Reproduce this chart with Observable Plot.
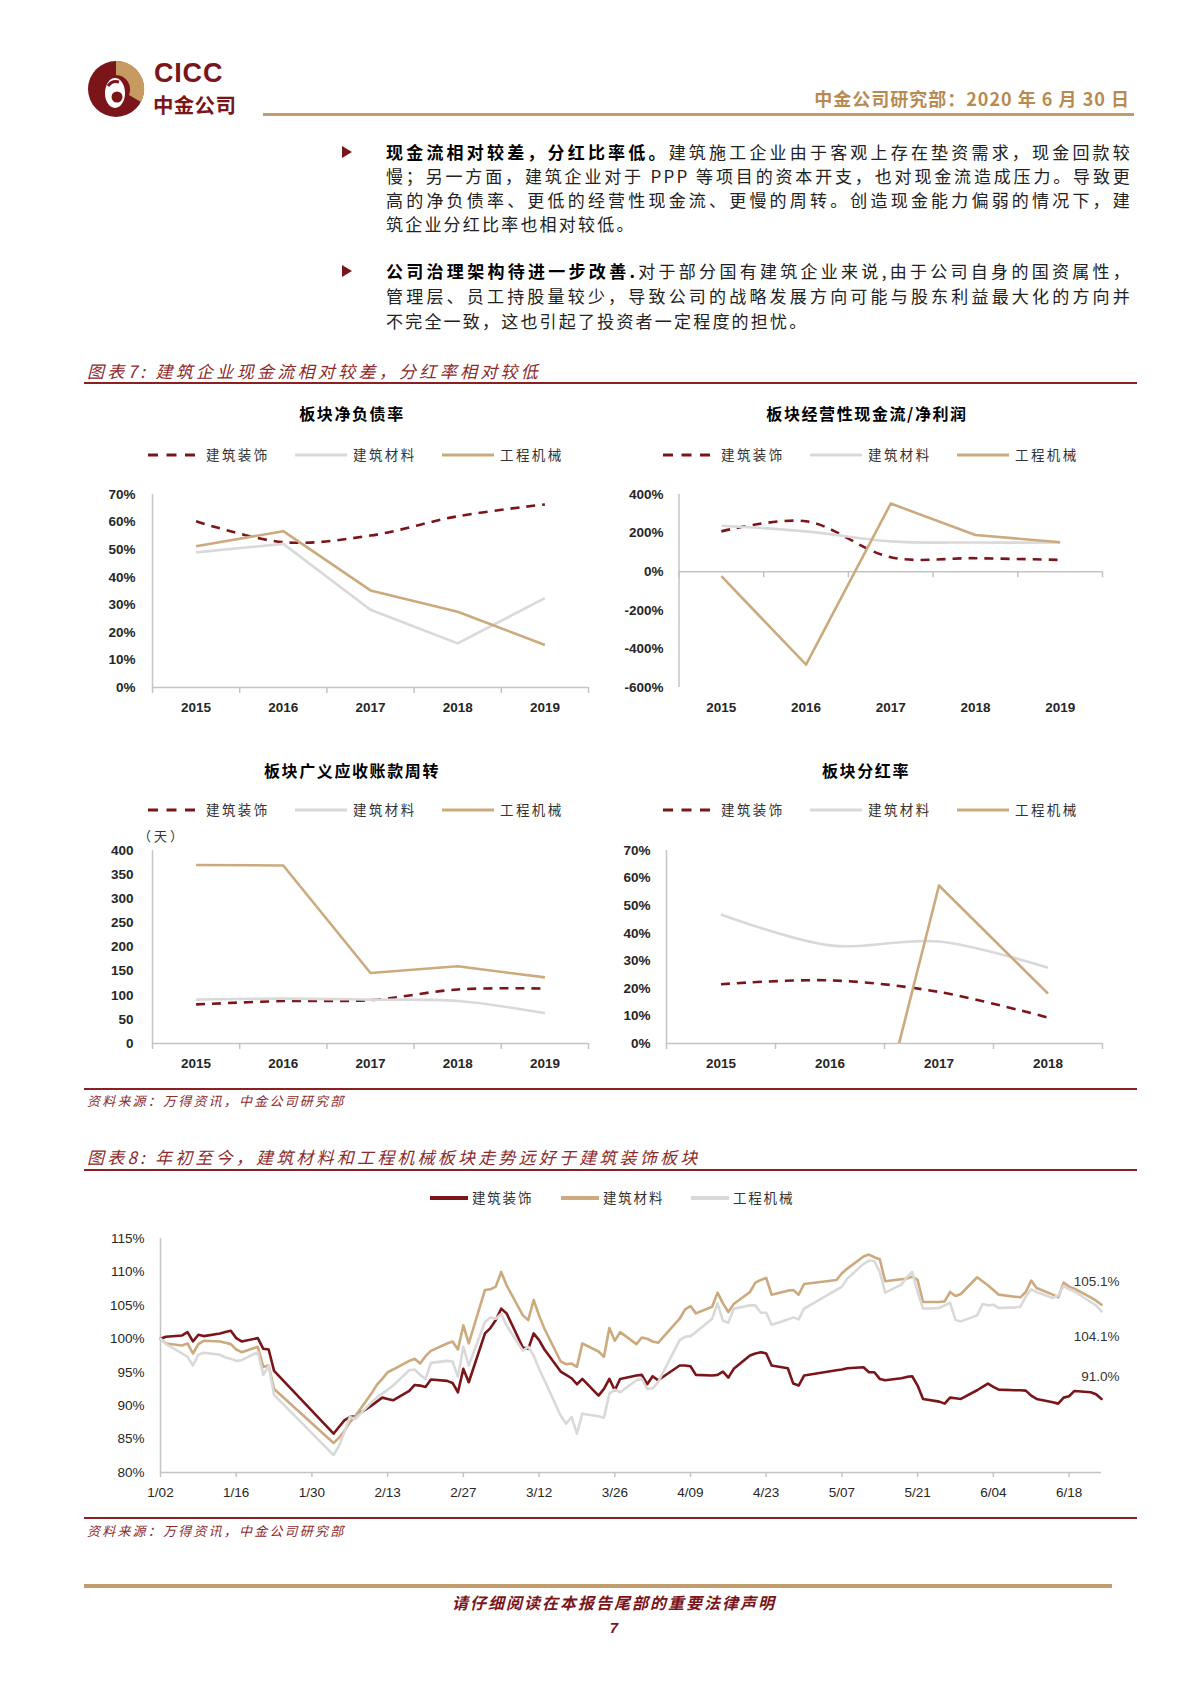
<!DOCTYPE html>
<html lang="zh-CN">
<head>
<meta charset="utf-8">
<script src="https://cdn.jsdelivr.net/npm/d3@7"></script>
<script src="https://cdn.jsdelivr.net/npm/@observablehq/plot@0.6"></script>
<style>
html,body{margin:0;padding:0;background:#fff;}
#page{position:relative;width:1200px;height:1698px;overflow:hidden;background:#fff;font-family:"Noto Sans CJK SC","Noto Sans",sans-serif;color:#1a1a1a;}
.t{position:absolute;white-space:nowrap;line-height:1;}
.bl{position:absolute;left:386px;width:746px;height:24px;line-height:24px;font-size:17px;letter-spacing:2.2px;color:#222;text-align:justify;text-align-last:justify;text-justify:inter-character;}
.bl.last{text-align-last:left;}
.bl b{font-weight:700;color:#000;}
.rule{position:absolute;}
</style>
</head>
<body>
<div id="page"></div>
<script>
// ---------------- DATA ----------------
const years5 = ["2015", "2016", "2017", "2018", "2019"];
const years4 = ["2015", "2016", "2017", "2018"];
const sectors = ["建筑装饰", "建筑材料", "工程机械"];

// 板块净负债率
const netDebtDecor = [0.603, 0.527, 0.551, 0.621, 0.664];
const netDebtMat   = [0.490, 0.521, 0.282, 0.160, 0.324];
const netDebtMach  = [0.512, 0.567, 0.352, 0.275, 0.154];
// 板块经营性现金流/净利润
const ocfDecor = [2.09, 2.61, 0.75, 0.70, 0.61];
const ocfMat   = [2.38, 2.09, 1.57, 1.51, 1.51];
const ocfMach  = [-0.23, -4.82, 3.53, 1.90, 1.53];
// 板块广义应收账款周转（天）
const arDecor = [81, 88, 90, 112, 114];
const arMat   = [91, 93, 91, 88, 63];
const arMach  = [370, 369, 146, 160, 137];
// 板块分红率
const divDecor = [0.215, 0.229, 0.187, 0.094];
const divMat   = [0.468, 0.356, 0.370, 0.275];
const divMach  = [null, -0.99, 0.573, 0.181];

const pctTicks70 = [0, 0.1, 0.2, 0.3, 0.4, 0.5, 0.6, 0.7];
const ocfTicks = [-6, -4, -2, 0, 2, 4];
const arTicks = [0, 50, 100, 150, 200, 250, 300, 350, 400];
const idxTicks = [80, 85, 90, 95, 100, 105, 110, 115];

// 图表8: trading days 2020 and indexed performance (%)
const tradeDates = [
"01-02","01-03","01-06","01-07","01-08","01-09","01-10","01-13","01-14","01-15","01-16","01-17","01-20","01-21","01-22","01-23",
"02-03","02-04","02-05","02-06","02-07","02-10","02-11","02-12","02-13","02-14","02-17","02-18","02-19","02-20","02-21","02-24","02-25","02-26","02-27","02-28",
"03-02","03-03","03-04","03-05","03-06","03-09","03-10","03-11","03-12","03-13","03-16","03-17","03-18","03-19","03-20","03-23","03-24","03-25","03-26","03-27","03-30","03-31",
"04-01","04-02","04-03","04-07","04-08","04-09","04-10","04-13","04-14","04-15","04-16","04-17","04-20","04-21","04-22","04-23","04-24","04-27","04-28","04-29","04-30",
"05-06","05-07","05-08","05-11","05-12","05-13","05-14","05-15","05-18","05-19","05-20","05-21","05-22","05-25","05-26","05-27","05-28","05-29",
"06-01","06-02","06-03","06-04","06-05","06-08","06-09","06-10","06-11","06-12","06-15","06-16","06-17","06-18","06-19","06-22","06-23","06-24"];

const decor8 = [
100.0,100.3,100.5,101.0,99.6,100.6,100.4,100.8,101.0,101.2,100.1,99.6,100.1,98.5,98.4,95.2,
85.8,86.8,87.8,88.3,88.4,90.0,90.6,91.2,91.0,90.8,92.2,93.1,93.0,92.8,93.9,93.7,93.4,92.0,95.5,93.5,
100.8,101.6,102.8,104.5,103.8,98.7,98.5,100.8,99.8,98.4,95.1,94.6,94.1,93.2,94.0,91.5,92.5,94.0,92.3,94.0,94.5,94.6,
93.2,94.4,93.8,96.0,96.0,95.9,94.6,94.5,94.6,95.1,94.2,95.5,97.5,97.8,98.0,97.8,96.0,95.6,93.3,93.0,94.5,
95.3,95.4,95.6,95.75,95.0,95.0,94.0,93.8,94.1,94.3,94.4,93.0,91.0,90.6,90.3,91.2,91.1,91.0,
92.3,92.8,93.3,92.8,92.4,92.3,92.3,92.25,91.5,91.0,90.5,90.3,91.2,91.4,92.2,92.0,91.7,91.0];

const mat8 = [
100.0,99.3,99.0,99.3,97.8,99.2,99.7,99.6,99.4,99.2,98.4,98.0,98.8,95.8,96.0,92.5,
84.4,85.2,86.2,87.5,88.4,91.8,93.1,94.0,95.0,95.4,96.7,97.0,96.3,97.4,98.2,99.3,99.6,98.4,102.0,99.3,
107.3,107.4,107.8,110.0,108.0,103.5,102.8,105.8,103.5,101.5,96.6,96.2,96.3,95.8,99.3,98.1,97.3,101.6,99.7,101.0,99.2,100.2,
100.0,99.6,99.4,103.0,104.4,104.9,103.8,104.8,106.9,105.3,104.0,105.2,107.0,108.4,108.8,109.1,106.6,107.2,107.3,106.6,108.2,
108.8,109.8,110.5,112.3,112.6,112.2,111.9,108.6,108.9,109.0,109.3,108.8,105.5,105.5,105.6,107.0,106.4,106.7,
109.2,108.6,108.0,107.3,106.6,106.3,106.2,107.0,108.7,107.6,106.6,106.2,108.4,107.8,107.5,106.2,105.7,105.1];

const mach8 = [
100.0,99.2,97.8,97.3,96.0,97.6,97.9,97.6,97.2,97.0,96.7,96.8,98.0,94.6,96.0,91.6,
82.6,84.0,86.0,88.3,88.0,90.5,91.2,91.8,92.4,93.0,95.3,95.4,94.6,94.0,96.4,96.7,96.6,94.3,98.8,96.0,
102.5,103.2,103.0,103.7,102.0,98.2,98.8,97.5,95.5,93.8,88.5,87.3,88.3,85.8,88.8,88.4,88.2,91.8,92.4,92.0,93.8,94.0,
92.5,92.6,93.5,99.8,100.3,100.4,101.0,103.0,105.3,102.7,102.4,104.5,105.0,105.0,103.9,103.9,102.1,102.9,103.2,102.9,104.5,
107.3,107.8,109.0,111.2,111.7,111.6,110.0,106.9,108.1,109.2,110.0,107.0,104.5,104.6,105.0,105.4,102.8,102.6,
103.5,105.2,105.0,105.1,104.6,104.7,104.8,106.3,107.4,107.0,106.1,106.5,107.9,107.4,107.1,105.5,105.0,104.1];

// ---------------- STYLE ----------------
const DARK = "#7a151a";
const GOLD = "#ccaa7e";
const GRAY = "#d9d9d9";
const AXIS = "#c4c4c4";
const CAP = "#8c2a2c";

const page = document.getElementById("page");
function add(html) { page.insertAdjacentHTML("beforeend", html); }
function txt(s, x, y, css, anchor) {
  const tx = anchor === "middle" ? "-50%" : anchor === "end" ? "-100%" : "0";
  add(`<div class="t" style="left:${x}px;top:${y}px;transform:translate(${tx},-50%);${css}">${s}</div>`);
}
function hrule(x1, x2, y, h, color) {
  add(`<div class="rule" style="left:${x1}px;top:${y - h / 2}px;width:${x2 - x1}px;height:${h}px;background:${color}"></div>`);
}
function mount(node, x, y) {
  node.style.position = "absolute"; node.style.left = x + "px"; node.style.top = y + "px";
  page.appendChild(node);
}

// ---------------- HEADER ----------------
add(`<svg style="position:absolute;left:86px;top:58px" width="62" height="62" viewBox="0 0 62 62">
  <circle cx="30" cy="31" r="28" fill="${DARK}"/>
  <path d="M30 3 A28 28 0 0 1 55 44 L43 37 A14.5 14.5 0 0 0 30 17 Z" fill="#c79a62"/>
  <ellipse cx="29" cy="35" rx="10" ry="15" fill="#fff"/>
  <circle cx="31" cy="39" r="5.5" fill="${DARK}"/>
  <path d="M22 28 Q26 22 33 24" stroke="${DARK}" stroke-width="3" fill="none"/>
</svg>`);
txt("CICC", 154, 73, `font-family:'Liberation Sans',Arial,sans-serif;font-weight:700;font-size:27px;color:${DARK};letter-spacing:0.8px`);
txt("中金公司", 153, 104, `font-weight:700;font-size:20.5px;color:${DARK};letter-spacing:0.3px`);
txt("中金公司研究部：2020 年 6 月 30 日", 1130, 98, `font-weight:700;font-size:18px;color:#b98a50;letter-spacing:1px`, "end");
hrule(263, 1134, 114, 3, "#c19b6c");

// ---------------- BODY TEXT ----------------
function tri(x, y) {
  add(`<svg style="position:absolute;left:${x - 6}px;top:${y - 7}px" width="12" height="14"><polygon points="1,1 11,7 1,13" fill="${DARK}"/></svg>`);
}
function line(html, yc, last) {
  add(`<div class="bl${last ? " last" : ""}" style="top:${yc - 12}px">${html}</div>`);
}
tri(347, 152);
line("<b>现金流相对较差，分红比率低。</b>建筑施工企业由于客观上存在垫资需求，现金回款较", 152);
line("慢；另一方面，建筑企业对于 PPP 等项目的资本开支，也对现金流造成压力。导致更", 176);
line("高的净负债率、更低的经营性现金流、更慢的周转。创造现金能力偏弱的情况下，建", 200);
line("筑企业分红比率也相对较低。", 224, true);
tri(347, 271);
line("<b>公司治理架构待进一步改善.</b>对于部分国有建筑企业来说,由于公司自身的国资属性，", 271);
line("管理层、员工持股量较少，导致公司的战略发展方向可能与股东利益最大化的方向并", 296);
line("不完全一致，这也引起了投资者一定程度的担忧。", 321, true);

// ---------------- FIGURE 7 ----------------
txt("图表7: 建筑企业现金流相对较差，分红率相对较低", 87, 370, `font-style:italic;font-size:17px;color:${CAP};letter-spacing:3.3px`);
hrule(84, 1137, 383, 1.5, "#8b1f22");

const TITLE_CSS = "font-weight:700;font-size:16px;color:#000;letter-spacing:1.6px";
const LEG_CSS = "font-size:13.5px;color:#333;letter-spacing:2.4px";
const legendStyles = [
  {color: DARK, dash: "10,8.5", width: 3},
  {color: GRAY, dash: null, width: 3},
  {color: GOLD, dash: null, width: 3}
];
function legend7(x0, y) {
  const offs = [0, 147, 294];
  sectors.forEach((name, k) => {
    const st = legendStyles[k];
    add(`<svg style="position:absolute;left:${x0 + offs[k]}px;top:${y - 3}px" width="52" height="6"><line x1="0" y1="3" x2="52" y2="3" stroke="${st.color}" stroke-width="${st.width}" ${st.dash ? `stroke-dasharray="${st.dash}"` : ""}/></svg>`);
    txt(name, x0 + offs[k] + 58, y, LEG_CSS);
  });
}

function smallChart(o) {
  const n = o.cats.length;
  const bounds = d3.range(n + 1).map(k => k - 0.5);
  const marks = [
    Plot.ruleX([-0.5], {stroke: AXIS, strokeWidth: 1.5}),
    Plot.ruleY([o.baseline], {stroke: AXIS, strokeWidth: 1.5}),
    Plot.ruleX(bounds, {y1: o.baseline, y2: o.baseline, insetBottom: -6, stroke: AXIS, strokeWidth: 1.5}),
    Plot.axisY({ticks: o.yTicks, tickFormat: o.yFormat, tickSize: 0, tickPadding: o.yPad, label: null}),
    Plot.axisX({ticks: d3.range(n), tickFormat: i => o.cats[i], tickSize: 0, tickPadding: 15, label: null})
  ];
  o.series.forEach(s => {
    const rows = s.values.map((v, i) => ({i, v}));
    marks.push(Plot.line(rows, {
      x: "i", y: "v", stroke: s.color, strokeWidth: 2.6,
      strokeDasharray: s.dash, curve: s.curve || "linear", clip: !!s.clip,
      strokeLinecap: "butt", strokeLinejoin: "round"
    }));
  });
  return Plot.plot({
    width: o.width, height: 240,
    marginLeft: o.ml, marginRight: o.mr, marginTop: 14, marginBottom: 33,
    x: {domain: [-0.5, n - 0.5]},
    y: {domain: o.yDomain},
    style: {fontFamily: "'Liberation Sans', Arial, sans-serif", fontSize: "13.5px", fontWeight: "bold", color: "#262626", background: "transparent", overflow: "visible"},
    marks
  });
}
const pct = d => Math.round(d * 100) + "%";
function trio(decor, mat, mach, matCurve) {
  return [
    {values: decor, color: DARK, dash: "9,7", curve: "catmull-rom"},
    {values: mat, color: GRAY, curve: matCurve},
    {values: mach, color: GOLD, clip: true}
  ];
}

// Chart 1
txt("板块净负债率", 352, 413, TITLE_CSS, "middle");
legend7(148, 455);
mount(smallChart({cats: years5, width: 526, ml: 68, mr: 22, yDomain: [0, 0.7], yTicks: pctTicks70, yFormat: pct, yPad: 17, baseline: 0,
  series: trio(netDebtDecor, netDebtMat, netDebtMach, "linear")}), 84, 480);

// Chart 2
txt("板块经营性现金流/净利润", 867, 413, TITLE_CSS, "middle");
legend7(663, 455);
mount(smallChart({cats: years5, width: 530, ml: 78.5, mr: 28, yDomain: [-6, 4], yTicks: ocfTicks, yFormat: pct, yPad: 15.5, baseline: 0,
  series: trio(ocfDecor, ocfMat, ocfMach, "catmull-rom")}), 600, 480);

// Chart 3
txt("板块广义应收账款周转", 352, 770, TITLE_CSS, "middle");
legend7(148, 810);
txt("（天）", 138, 835, "font-size:13px;color:#333;letter-spacing:3px");
mount(smallChart({cats: years5, width: 526, ml: 68, mr: 22, yDomain: [0, 400], yTicks: arTicks, yFormat: d => String(d), yPad: 19, baseline: 0,
  series: trio(arDecor, arMat, arMach, "catmull-rom")}), 84, 836);

// Chart 4
txt("板块分红率", 866, 770, TITLE_CSS, "middle");
legend7(663, 810);
mount(smallChart({cats: years4, width: 530, ml: 66, mr: 28, yDomain: [0, 0.7], yTicks: pctTicks70, yFormat: pct, yPad: 16, baseline: 0,
  series: trio(divDecor, divMat, divMach, "catmull-rom")}), 600, 836);

hrule(84, 1137, 1089, 1.5, "#8b1f22");
const SRC_CSS = `font-style:italic;font-size:13px;color:${CAP};letter-spacing:2.2px`;
txt("资料来源：万得资讯，中金公司研究部", 87, 1100, SRC_CSS);

// ---------------- FIGURE 8 ----------------
txt("图表8: 年初至今，建筑材料和工程机械板块走势远好于建筑装饰板块", 87, 1156, `font-style:italic;font-size:17px;color:${CAP};letter-spacing:3.2px`);
hrule(84, 1137, 1170, 1.5, "#8b1f22");

const legend8 = [
  {x: 430, color: DARK}, {x: 561, color: GOLD}, {x: 691, color: GRAY}
];
const names8 = ["建筑装饰", "建筑材料", "工程机械"];
legend8.forEach((l, k) => {
  add(`<div class="rule" style="left:${l.x}px;top:1196px;width:38px;height:4px;background:${l.color}"></div>`);
  txt(names8[k], l.x + 42, 1198, "font-size:13.5px;color:#333;letter-spacing:1.8px");
});

const toDate = s => new Date(`2020-${s}T00:00:00Z`);
const rows8 = tradeDates.map((s, i) => ({date: toDate(s), decor: decor8[i], mat: mat8[i], mach: mach8[i]}));
const d0 = rows8[0].date, d1 = rows8[rows8.length - 1].date;
const ticks8 = d3.range(13).map(k => d3.utcDay.offset(d0, 14 * k));
const fmtMD = d => `${d.getUTCMonth() + 1}/${String(d.getUTCDate()).padStart(2, "0")}`;
const last = rows8[rows8.length - 1];
const fmtPct1 = v => d3.format(".1f")(v) + "%";

const fig8 = Plot.plot({
  width: 1053, height: 285,
  marginLeft: 76, marginRight: 36, marginTop: 13, marginBottom: 38,
  x: {type: "utc", domain: [d0, d1]},
  y: {domain: [80, 115]},
  style: {fontFamily: "'Liberation Sans', Arial, sans-serif", fontSize: "13.5px", color: "#262626", background: "transparent", overflow: "visible"},
  marks: [
    Plot.ruleX([d0], {stroke: AXIS, strokeWidth: 1.5}),
    Plot.ruleY([80], {stroke: AXIS, strokeWidth: 1.5}),
    Plot.ruleX(ticks8, {y1: 80, y2: 80, insetBottom: -5, stroke: AXIS, strokeWidth: 1.5}),
    Plot.axisY({ticks: idxTicks, tickFormat: d => d + "%", tickSize: 0, tickPadding: 16, label: null}),
    Plot.axisX({ticks: ticks8, tickFormat: fmtMD, tickSize: 0, tickPadding: 15, label: null}),
    Plot.line(rows8, {x: "date", y: "decor", stroke: DARK, strokeWidth: 2.6, strokeLinejoin: "round"}),
    Plot.line(rows8, {x: "date", y: "mat", stroke: GOLD, strokeWidth: 2.6, strokeLinejoin: "round"}),
    Plot.line(rows8, {x: "date", y: "mach", stroke: GRAY, strokeWidth: 2.6, strokeLinejoin: "round"}),
    Plot.text([last], {x: "date", y: "mat", text: d => fmtPct1(d.mat), dx: 18, dy: -23, textAnchor: "end", fill: "#333"}),
    Plot.text([last], {x: "date", y: "mach", text: d => fmtPct1(d.mach), dx: 18, dy: 25, textAnchor: "end", fill: "#333"}),
    Plot.text([last], {x: "date", y: "decor", text: d => fmtPct1(d.decor), dx: 18, dy: -22, textAnchor: "end", fill: "#333"})
  ]
});
mount(fig8, 84, 1225);

hrule(84, 1137, 1518, 1.5, "#8b1f22");
txt("资料来源：万得资讯，中金公司研究部", 87, 1530, SRC_CSS);

// ---------------- FOOTER ----------------
hrule(84, 1112, 1586, 4, "#c29c6c");
txt("请仔细阅读在本报告尾部的重要法律声明", 614, 1602, `font-weight:700;font-style:italic;font-size:16px;color:${DARK};letter-spacing:2px`, "middle");
txt("7", 614, 1627, `font-family:'Liberation Sans',Arial,sans-serif;font-weight:700;font-style:italic;font-size:15px;color:${DARK}`, "middle");
</script>
</body>
</html>
